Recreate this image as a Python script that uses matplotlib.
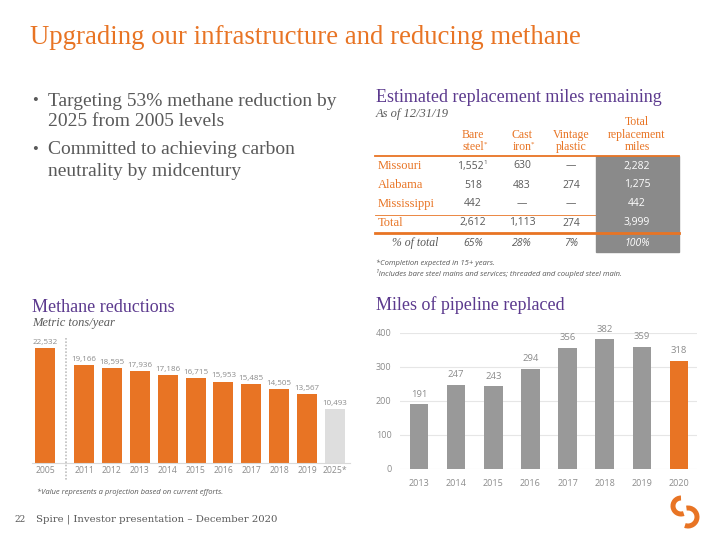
import matplotlib
matplotlib.use("Agg")
import matplotlib.pyplot as plt
from matplotlib.patches import Rectangle, Arc

# ---------------- data ----------------
methane_years = ["2005", "2011", "2012", "2013", "2014", "2015", "2016", "2017", "2018", "2019", "2025*"]
methane_values = [22532, 19166, 18595, 17936, 17186, 16715, 15953, 15485, 14505, 13567, 10493]

pipe_years = ["2013", "2014", "2015", "2016", "2017", "2018", "2019", "2020"]
pipe_miles = [191, 247, 243, 294, 356, 382, 359, 318]
pipe_yticks = [0, 100, 200, 300, 400]

table_rows = ["Missouri", "Alabama", "Mississippi", "Total"]
bare_steel = [1552, 518, 442, 2612]
cast_iron = [630, 483, None, 1113]
vintage_plastic = [None, 274, None, 274]
total_miles = [2282, 1275, 442, 3999]
pct_of_total = [65, 28, 7, 100]

bullets = [["Targeting 53% methane reduction by", "2025 from 2005 levels"],
           ["Committed to achieving carbon", "neutrality by midcentury"]]

ORANGE = "#E87424"
PURPLE = "#5C3A8E"
GRAY_TXT = "#595959"
LBL = "#8C8C8C"
SERIF = ["Liberation Serif", "DejaVu Serif"]
SANS = ["Open Sans", "DejaVu Sans"]

W, H = 720, 540
fig = plt.figure(figsize=(7.2, 5.4), dpi=100)


def px_axes(left, top, right, bottom):
    return fig.add_axes([left / W, 1 - bottom / H, (right - left) / W, (bottom - top) / H])


# overlay in pixel coordinates
ov = fig.add_axes([0, 0, 1, 1], zorder=5)
ov.set_xlim(0, W)
ov.set_ylim(H, 0)
ov.axis("off")
ov.patch.set_alpha(0)

# ---------------- titles / text ----------------
ov.text(30, 37, "Upgrading our infrastructure and reducing methane", color=ORANGE,
        family=SERIF, fontsize=19.3, va="center", ha="left")

bullet_y = [[101, 122], [150, 171]]
for lines, ys in zip(bullets, bullet_y):
    ov.text(32, ys[0], "•", color=GRAY_TXT, family=SERIF, fontsize=12, va="center")
    for line, y in zip(lines, ys):
        ov.text(48, y, line, color=GRAY_TXT, family=SERIF, fontsize=14, va="center")

ov.text(376, 98, "Estimated replacement miles remaining", color=PURPLE, family=SERIF,
        fontsize=13, va="center")
ov.text(376, 114, "As of 12/31/19", color=GRAY_TXT, family=SERIF, style="italic",
        fontsize=9, va="center")

ov.text(32, 307, "Methane reductions", color=PURPLE, family=SERIF, fontsize=13, va="center")
ov.text(32, 323, "Metric tons/year", color=GRAY_TXT, family=SERIF, style="italic",
        fontsize=9, va="center")
ov.text(376, 305, "Miles of pipeline replaced", color=PURPLE, family=SERIF, fontsize=13,
        va="center")

ov.text(37, 492, "*Value represents a projection based on current efforts.", color=GRAY_TXT,
        family=SANS, style="italic", fontsize=5.5, va="center")
ov.text(376, 263, "*Completion expected in 15+ years.", color=GRAY_TXT,
        family=SANS, style="italic", fontsize=5.5, va="center")
ov.text(376, 274, "¹Includes bare steel mains and services; threaded and coupled steel main.",
        color=GRAY_TXT, family=SANS, style="italic", fontsize=5.5, va="center")

ov.text(14, 519, "22", color=GRAY_TXT, family=["DejaVu Serif"], fontsize=6.5, va="center")
ov.text(36, 519, "Spire | Investor presentation – December 2020", color=GRAY_TXT,
        family=["DejaVu Serif"], fontsize=7.3, va="center")

# logo
ov.add_patch(Arc((681, 506), 16, 16, theta1=70, theta2=270, color=ORANGE, lw=3.6))
ov.add_patch(Arc((688, 517), 18, 18, theta1=-100, theta2=110, color=ORANGE, lw=3.6))

# ---------------- table ----------------
col_x = [473, 522, 571, 637]
row_y = [166, 185, 204, 223]
ov.add_patch(Rectangle((596, 156), 83, 96, color="#8A8A8A", zorder=1))
ov.plot([375, 679], [156, 156], color=ORANGE, lw=1.3, zorder=2)
ov.plot([375, 679], [215, 215], color=ORANGE, lw=0.6, zorder=0.5)
ov.plot([375, 679], [233, 233], color=ORANGE, lw=2.0, zorder=2)

hdr_kw = dict(color=ORANGE, family=SERIF, fontsize=8.5, ha="center", va="center")
ov.text(col_x[0], 135, "Bare", **hdr_kw)
ov.text(col_x[0], 147, "steel", **hdr_kw)
ov.text(col_x[0] + 12, 144, "*", color=ORANGE, family=SERIF, fontsize=5, ha="center", va="center")
ov.text(col_x[1], 135, "Cast", **hdr_kw)
ov.text(col_x[1], 147, "iron", **hdr_kw)
ov.text(col_x[1] + 10, 144, "*", color=ORANGE, family=SERIF, fontsize=5, ha="center", va="center")
ov.text(col_x[2], 135, "Vintage", **hdr_kw)
ov.text(col_x[2], 147, "plastic", **hdr_kw)
ov.text(col_x[3], 122, "Total", **hdr_kw)
ov.text(col_x[3], 135, "replacement", **hdr_kw)
ov.text(col_x[3], 147, "miles", **hdr_kw)


def fmt(v):
    return "—" if v is None else f"{v:,}"


for i, (name, y) in enumerate(zip(table_rows, row_y)):
    ov.text(378, y, name, color=ORANGE, family=SERIF, fontsize=9, va="center", zorder=3)
    for j, col in enumerate([bare_steel, cast_iron, vintage_plastic]):
        xx = col_x[j] - (3 if (i == 0 and j == 0) else 0)
        ov.text(xx, y, fmt(col[i]), color=GRAY_TXT, family=SANS, fontsize=7.5,
                ha="center", va="center", zorder=3)
    ov.text(col_x[3], y, fmt(total_miles[i]), color="white", family=SANS, fontsize=7.5,
            ha="center", va="center", zorder=3)
ov.text(col_x[0] + 12, row_y[0] - 4, "1", color=GRAY_TXT, family=SANS, fontsize=4.5,
        ha="center", va="center")

ov.text(392, 243, "% of total", color=GRAY_TXT, family=SERIF, style="italic", fontsize=8.5,
        va="center")
for j in range(3):
    ov.text(col_x[j], 243, f"{pct_of_total[j]}%", color=GRAY_TXT, family=SANS,
            style="italic", fontsize=7.5, ha="center", va="center")
ov.text(col_x[3], 243, f"{pct_of_total[3]}%", color="white", family=SANS,
        style="italic", fontsize=7.5, ha="center", va="center", zorder=3)

# ---------------- methane chart ----------------
ax1 = px_axes(32, 338, 350, 463)
mx = [0] + [1.4 + i for i in range(len(methane_values) - 1)]
mcolors = [ORANGE] * (len(methane_values) - 1) + ["#DEDEDE"]
ax1.bar(mx, methane_values, width=0.72, color=mcolors, zorder=2)
ax1.set_xlim(-0.466, 10.94)
ax1.set_ylim(0, 24490)
for x, v in zip(mx, methane_values):
    ax1.annotate(f"{v:,}", (x, v), xytext=(0, 1.5), textcoords="offset points",
                 ha="center", va="bottom", fontsize=5.8, color=LBL, family=SANS,
                 annotation_clip=False)
ax1.set_xticks(mx)
ax1.set_xticklabels(methane_years, fontsize=6.2, color=LBL, family=SANS)
ax1.tick_params(axis="x", length=0, pad=2)
ax1.set_yticks([])
for s in ["top", "right", "left"]:
    ax1.spines[s].set_visible(False)
ax1.spines["bottom"].set_color("#D9D9D9")
ax1.patch.set_alpha(0)
ov.plot([66, 66], [338, 480], color="#BFBFBF", lw=1.2, ls=(0, (1, 1)))

# ---------------- miles chart ----------------
ax2 = px_axes(400, 333, 697, 469)
pxs = list(range(len(pipe_miles)))
pcolors = ["#999999"] * (len(pipe_miles) - 1) + [ORANGE]
ax2.bar(pxs, pipe_miles, width=0.5, color=pcolors, zorder=2)
ax2.set_xlim(-0.512, 7.485)
ax2.set_ylim(0, 400)
ax2.set_yticks(pipe_yticks)
ax2.set_yticklabels([str(t) for t in pipe_yticks], fontsize=6.5, color=LBL, family=SANS)
ax2.set_xticks(pxs)
ax2.set_xticklabels(pipe_years, fontsize=6.5, color=LBL, family=SANS)
ax2.tick_params(length=0)
ax2.tick_params(axis="y", pad=6)
ax2.tick_params(axis="x", pad=7)
ax2.grid(axis="y", color="#E6E6E6", lw=0.8, zorder=0)
for s in ["top", "right", "left", "bottom"]:
    ax2.spines[s].set_visible(False)
for x, v in zip(pxs, pipe_miles):
    ax2.annotate(f"{v}", (x, v), xytext=(0, 4), textcoords="offset points",
                 ha="center", va="bottom", fontsize=6.8, color=LBL, family=SANS,
                 annotation_clip=False)
ax2.patch.set_alpha(0)

fig.savefig("out.png", dpi=100)
